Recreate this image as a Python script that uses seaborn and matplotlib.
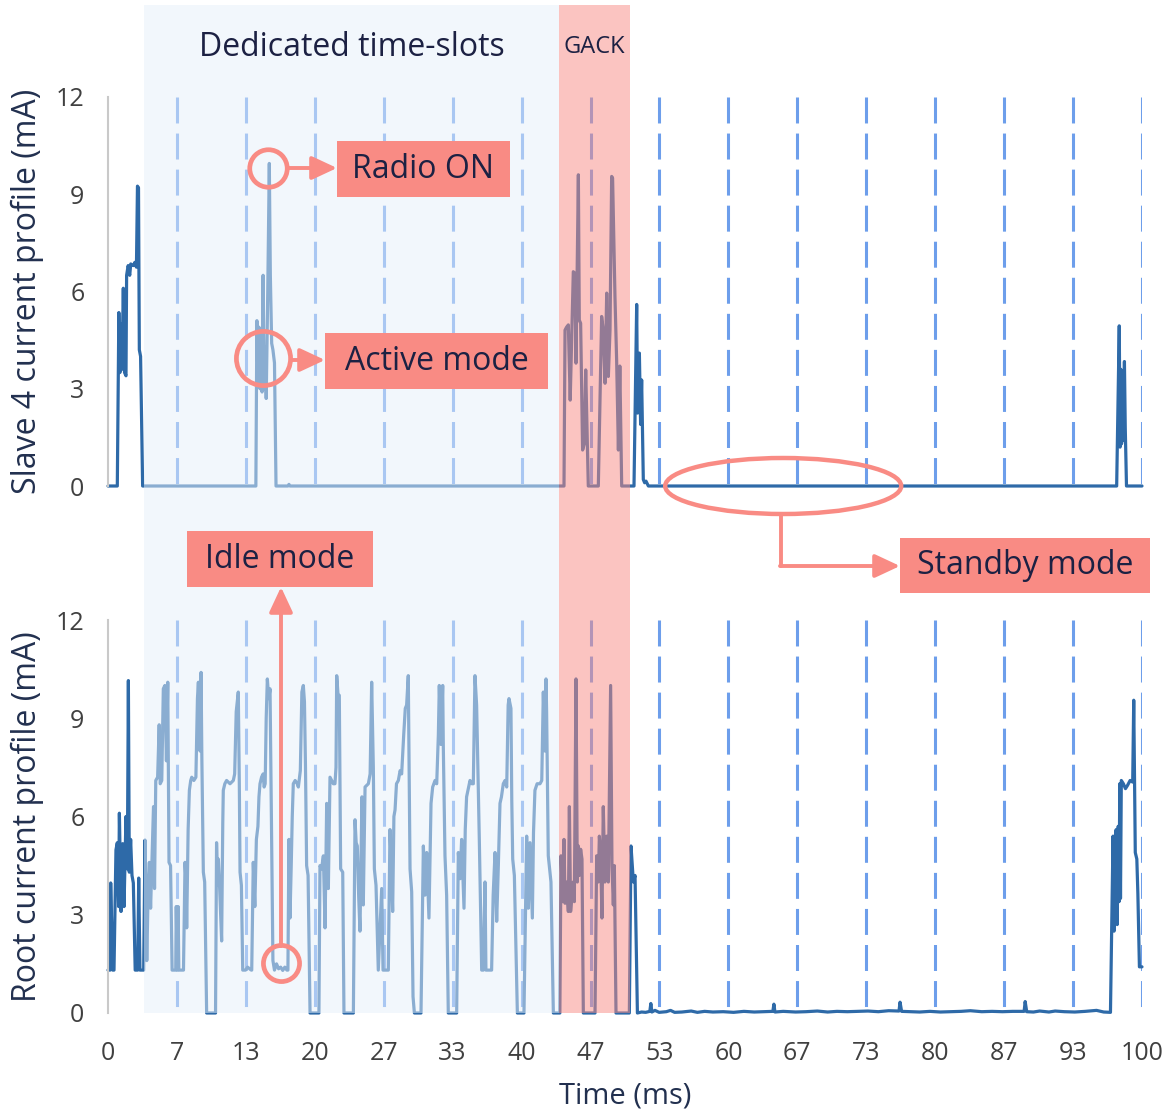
import numpy as np
import matplotlib
matplotlib.use("Agg")
import matplotlib.pyplot as plt
import seaborn as sns
from matplotlib.patches import Rectangle, Ellipse, FancyArrowPatch
from matplotlib.lines import Line2D
from matplotlib.transforms import Affine2D, blended_transform_factory

# =========================
# Data
# =========================
slave_t = [0.0, 0.9, 1.05, 1.15, 1.25, 1.35, 1.48, 1.6, 1.74, 1.8, 1.95, 2.1, 2.2, 2.45, 2.6,
           2.75, 2.85, 2.95, 3.03, 3.15, 3.35,
           14.3, 14.4, 14.5, 14.6, 14.7, 14.8, 14.9, 15.0, 15.1, 15.2, 15.3, 15.45, 15.6, 15.7,
           15.83, 15.95, 16.1, 16.25, 17.4, 17.5, 17.6,
           44.1, 44.2, 44.35, 44.52, 44.7, 44.84, 45.0, 45.16, 45.26, 45.49, 45.58, 45.71, 45.9,
           46.06, 46.2, 46.45,
           47.42, 47.74, 47.9, 48.07, 48.23, 48.39, 48.55, 48.71, 48.8, 49.03, 49.19, 49.36,
           49.5, 49.68,
           50.87, 51.13, 51.22, 51.39, 51.51, 51.61, 51.77, 51.9, 52.03, 52.26,
           97.55, 97.8, 97.88, 97.95, 98.02, 98.1, 98.18, 98.3, 98.38, 98.5, 100.0]
slave_i = [0.0, 0.0, 5.35, 3.5, 5.0, 3.6, 6.1, 3.5, 3.4, 6.5, 6.8, 6.5, 6.85, 6.8, 6.9,
           6.75, 9.25, 9.2, 4.2, 4.0, 0.0,
           0.0, 5.1, 3.2, 4.9, 3.0, 4.7, 2.9, 6.5, 3.0, 4.3, 2.7, 6.0, 9.95, 6.5,
           4.4, 4.2, 3.8, 0.0, 0.0, 0.05, 0.0,
           0.0, 4.81, 4.9, 4.97, 2.65, 4.5, 6.61, 6.56, 3.79, 9.6, 5.12, 5.02, 1.11,
           1.3, 3.58, 0.0,
           0.0, 5.23, 4.8, 3.17, 5.95, 3.38, 4.81, 9.55, 9.5, 5.84, 3.89, 1.11,
           3.7, 0.0,
           0.0, 5.6, 2.25, 4.1, 1.9, 3.27, 0.2, 0.1, 0.15, 0.0,
           0.0, 4.94, 1.2, 3.6, 1.3, 3.5, 1.4, 3.84, 1.8, 0.0, 0.0]

root_t = [0.0, 0.2, 0.26, 0.45, 0.58, 0.77, 0.9, 1.03, 1.1, 1.26, 1.42, 1.55, 1.74, 1.87, 1.97,
          2.06, 2.19, 2.32, 2.45, 2.63, 2.87, 2.97, 3.09, 3.45,
          # time-slot bursts
          3.58, 3.75, 3.9, 4.0, 4.12, 4.25, 4.4, 4.5, 4.62, 4.8, 4.95, 5.05, 5.2, 5.35, 5.5, 5.65,
          5.78, 5.9, 6.05, 6.2, 6.55, 6.6, 6.7, 6.78, 6.85, 7.2,
          7.3, 7.45, 7.55, 7.61, 7.75, 7.87, 8.0, 8.1, 8.3, 8.5, 8.65, 8.74, 8.9, 9.0, 9.08,
          9.22, 9.35, 9.54, 10.3,
          10.4, 10.5, 10.6, 10.67, 10.8, 10.99, 11.1, 11.15, 11.3, 11.47, 11.8, 12.12, 12.25,
          12.4, 12.6, 12.7, 12.77, 12.9, 13.03, 13.3, 13.5, 13.85,
          13.9, 14.05, 14.2, 14.35, 14.5, 14.6, 14.7, 14.85, 15.0, 15.1, 15.2, 15.3, 15.41,
          15.55, 15.67, 15.83, 15.95, 16.1, 16.3, 16.5, 16.7, 16.9, 17.1, 17.3,
          17.4, 17.5, 17.6, 17.72, 17.82, 17.92, 18.1, 18.3, 18.41, 18.6, 18.75, 18.89, 19.0,
          19.1, 19.21, 19.35, 19.54, 20.2,
          20.4, 20.5, 20.65, 20.83, 20.99, 21.15, 21.31, 21.47, 21.79, 21.95, 22.05, 22.12,
          22.25, 22.37, 22.5, 22.7, 22.82, 23.73,
          23.89, 24.0, 24.11, 24.25, 24.37, 24.56, 24.69, 24.86, 25.18, 25.35, 25.5, 25.66,
          25.76, 25.92, 26.14, 26.47, 26.6, 27.11,
          27.27, 27.4, 27.53, 27.65, 27.76, 27.9, 28.08, 28.25, 28.4, 28.6, 28.75, 28.88, 29.04,
          29.21, 29.37, 29.5, 29.63, 30.27,
          30.5, 30.66, 30.82, 31.04, 31.24, 31.4, 31.63, 31.79, 31.95, 32.04, 32.2, 32.37,
          32.43, 32.59, 32.75, 32.91, 33.72,
          33.88, 34.05, 34.2, 34.43, 34.55, 34.68, 35.01, 35.2, 35.33, 35.49, 35.65, 35.91,
          36.14, 36.3, 36.46, 36.55, 37.1,
          37.25, 37.43, 37.59, 37.75, 37.91, 38.05, 38.23, 38.4, 38.56, 38.7, 38.78, 38.97,
          39.05, 39.14, 39.3, 39.59, 40.23,
          40.49, 40.65, 40.81, 41.04, 41.15, 41.29, 41.5, 41.78, 41.95, 42.1, 42.25, 42.36,
          42.42, 42.58, 42.84, 43.07, 43.7,
          # GACK bursts
          43.81, 43.97, 44.1, 44.2, 44.36, 44.52, 44.62, 44.74, 44.87, 45.0, 45.1, 45.26, 45.39,
          45.49, 45.58, 45.71, 45.84, 45.97, 47.1,
          47.26, 47.42, 47.52, 47.65, 47.77, 47.9, 48.06, 48.23, 48.39, 48.61, 48.74, 48.87,
          48.97, 49.13, 50.42, 50.58, 50.81, 50.97, 51.2,
          # standby
          51.6, 52.0, 52.4, 52.5, 52.6, 52.9, 53.3, 54.0, 54.4, 54.8, 55.5, 56.4, 57.0, 57.7,
          58.5, 59.5, 60.5, 61.5, 62.5, 63.5, 64.3, 64.4, 64.5, 65.3, 66.5, 67.5, 68.6, 69.6,
          70.5, 71.5, 72.5, 73.5, 74.5, 75.5, 76.5, 76.6, 76.75, 77.5, 78.5, 79.5, 80.5, 81.5,
          82.5, 83.4, 84.5, 85.5, 86.5, 87.5, 88.6, 88.7, 88.85, 89.5, 90.1, 91.0, 91.6, 92.5,
          93.5, 94.5, 95.6, 96.3, 96.95,
          # next cycle
          97.2, 97.3, 97.4, 97.5, 97.6, 97.7, 97.78, 97.85, 97.92, 98.0, 98.2, 98.4, 98.6,
          98.85, 99.1, 99.2, 99.35, 99.5, 99.6, 99.75, 100.0]
root_i = [1.31, 1.31, 3.97, 1.31, 1.31, 4.98, 5.2, 3.25, 6.1, 3.1, 5.17, 3.25, 6.0, 4.4, 10.15,
          4.3, 5.3, 4.2, 3.97, 1.31, 1.31, 4.12, 1.31, 1.31,
          5.28, 1.6, 4.0, 4.6, 3.2, 4.6, 6.3, 3.8, 7.1, 7.2, 8.8, 7.0, 7.1, 9.9, 10.0, 7.7,
          10.1, 4.6, 4.5, 1.31, 1.31, 3.25, 1.31, 3.25, 1.31, 1.31,
          1.31, 4.6, 4.0, 2.6, 5.6, 6.8, 7.1, 7.2, 7.1, 7.2, 9.6, 10.1, 8.0, 10.4, 7.7,
          4.3, 4.0, 0.0, 0.0,
          0.0, 5.2, 3.9, 4.7, 3.8, 2.2, 5.8, 6.8, 7.0, 7.1, 7.0, 7.1, 7.3,
          9.2, 9.8, 7.0, 4.3, 3.9, 1.31, 1.31, 1.4, 1.31,
          1.31, 4.6, 3.25, 5.3, 5.7, 6.6, 7.0, 7.2, 7.3, 6.9, 7.0, 9.0, 10.2,
          9.6, 9.9, 5.0, 1.6, 1.31, 1.5, 1.35, 1.4, 1.3, 1.4, 1.31,
          1.31, 5.3, 2.9, 4.5, 6.0, 7.0, 7.1, 7.0, 6.9, 7.4, 9.8, 10.0, 9.5,
          7.5, 4.5, 4.2, 0.0, 0.0,
          0.0, 4.5, 4.4, 4.8, 2.6, 6.4, 3.8, 7.2, 7.0, 7.0, 7.5, 10.3,
          9.7, 9.7, 4.4, 4.3, 0.0, 0.0,
          5.9, 5.2, 5.1, 3.5, 2.5, 6.6, 3.3, 6.9, 7.0, 7.3, 10.1, 7.5,
          4.4, 3.9, 1.31, 3.8, 1.31, 1.31,
          5.6, 4.5, 3.1, 6.0, 6.2, 7.0, 7.1, 7.4, 7.3, 8.5, 9.3, 9.4, 10.3,
          4.4, 3.7, 0.5, 0.0, 0.0,
          5.1, 3.6, 4.9, 2.9, 6.4, 6.9, 7.1, 7.0, 8.5, 10.0, 8.2, 10.0,
          8.1, 4.8, 3.6, 0.0, 0.0,
          4.9, 4.1, 5.3, 3.2, 5.6, 6.6, 7.1, 7.0, 7.0, 10.3, 9.4, 5.3,
          1.31, 1.31, 4.0, 1.31, 1.31,
          3.6, 4.9, 2.8, 4.5, 6.4, 6.6, 7.0, 7.1, 6.9, 9.4, 9.6, 9.3,
          6.5, 4.7, 4.2, 0.0, 0.0,
          5.4, 3.2, 5.2, 2.9, 5.5, 6.8, 7.0, 7.0, 7.1, 9.8, 8.0, 10.2,
          9.2, 4.8, 4.0, 0.0, 0.0,
          4.8, 3.4, 5.3, 3.35, 4.0, 3.1, 6.3, 3.1, 3.6, 4.0, 3.4, 10.2, 4.0,
          5.1, 4.2, 5.0, 4.7, 0.0, 0.0,
          4.8, 4.0, 5.4, 4.8, 2.9, 6.3, 4.0, 5.4, 4.0, 10.0, 4.5, 3.3,
          4.5, 0.0, 0.0, 5.1, 4.0, 4.2, 0.0,
          0.03, 0.02, 0.05, 0.29, 0.03, 0.08, 0.02, 0.04, 0.08, 0.02, 0.03, 0.06, 0.02, 0.05,
          0.03, 0.04, 0.02, 0.05, 0.03, 0.04, 0.05, 0.27, 0.03, 0.05, 0.03, 0.04, 0.06, 0.03,
          0.05, 0.04, 0.05, 0.06, 0.04, 0.07, 0.06, 0.33, 0.05, 0.04, 0.03, 0.05, 0.03, 0.04,
          0.05, 0.07, 0.04, 0.05, 0.04, 0.05, 0.05, 0.35, 0.04, 0.03, 0.06, 0.03, 0.06, 0.04,
          0.03, 0.05, 0.08, 0.03, 0.02,
          5.4, 2.5, 5.2, 5.6, 2.7, 5.7, 3.4, 7.0, 3.5, 7.1, 7.0, 6.85, 6.95,
          7.1, 7.05, 9.55, 4.9, 4.7, 3.65, 1.41, 1.41]

x_tick_labels = ["0", "7", "13", "20", "27", "33", "40", "47", "53", "60", "67", "73",
                 "80", "87", "93", "100"]
y_ticks = [0, 3, 6, 9, 12]
slot_window = (3.5, 43.6)
gack_window = (43.6, 50.45)

# =========================
# Style
# =========================
LINE = "#2e6aa8"
DASH = "#6d9eeb"
SALMON = "#f98b84"
TEXT = "#1c2143"
LABEL = "#22304f"
WEIGHT = "normal"

sns.set_theme(style="white")
plt.rcParams["font.family"] = ["Open Sans", "DejaVu Sans"]

W, H = 1166, 1115
fig = plt.figure(figsize=(W / 100, H / 100), dpi=100)
px = Affine2D().scale(1 / W, -1 / H).translate(0, 1) + fig.transFigure

ax1 = fig.add_axes([108 / W, 1 - 486 / H, 1034 / W, 389 / H])
ax2 = fig.add_axes([108 / W, 1 - 1013 / H, 1034 / W, 393 / H])

slot_edges = np.linspace(0, 100, 16)

for ax, t, i, lab in [(ax1, slave_t, slave_i, "Slave 4 current profile (mA)"),
                      (ax2, root_t, root_i, "Root current profile (mA)")]:
    for xv in slot_edges[1:]:
        ax.plot([xv, xv], [12, 0], color=DASH, lw=2.2, dashes=(8.5, 3.3), zorder=1,
                solid_capstyle="butt", dash_capstyle="butt")
    sns.lineplot(x=t, y=i, ax=ax, color=LINE, linewidth=2.3, estimator=None, sort=False,
                 zorder=2)
    ax.lines[-1].set_clip_on(False)
    ax.set_xlim(0, 100)
    ax.set_ylim(0, 12)
    ax.set_yticks(y_ticks)
    ax.set_xticks(slot_edges)
    ax.tick_params(length=0, labelsize=18, labelcolor="#404040", pad=17)
    for s in ["top", "right", "bottom"]:
        ax.spines[s].set_visible(False)
    ax.spines["left"].set_color("#c9c9c9")
    ax.spines["left"].set_linewidth(1.5)
    ax.set_ylabel(lab, fontsize=23, color=LABEL, fontweight=WEIGHT)
    ax.yaxis.set_label_coords(-0.062, 0.5)

ax1.set_xticklabels([])
ax2.set_xticklabels(x_tick_labels)
ax2.tick_params(axis="x", pad=20)
ax2.set_xlabel("Time (ms)", fontsize=21, color=LABEL, fontweight=WEIGHT)
ax2.xaxis.set_label_coords(0.5, -0.175)

# =========================
# Shaded windows (drawn over the traces)
# =========================
blend = blended_transform_factory(ax2.transData, px)
fig.add_artist(Rectangle((slot_window[0], 5), slot_window[1] - slot_window[0], 1008,
                         transform=blend, facecolor="#e6f0fa", alpha=0.5, lw=0, zorder=5))
fig.add_artist(Rectangle((gack_window[0], 5), gack_window[1] - gack_window[0], 1008,
                         transform=blend, facecolor=SALMON, alpha=0.5, lw=0, zorder=5))

fig.text(sum(slot_window) / 2, 48, "Dedicated time-slots", transform=blend, fontsize=23,
         color=TEXT, ha="center", va="center", zorder=11, fontweight=WEIGHT)
fig.text(sum(gack_window) / 2, 47, "GACK", transform=blend, fontsize=17,
         color=TEXT, ha="center", va="center", zorder=11, fontweight=WEIGHT)

# =========================
# Annotations
# =========================
def box(x0, y0, w, h, label):
    fig.add_artist(Rectangle((x0, y0), w, h, transform=px, facecolor=SALMON, lw=0, zorder=10))
    fig.text(x0 + w / 2, y0 + h / 2, label, transform=px, fontsize=23, color=TEXT,
             ha="center", va="center", zorder=11, fontweight=WEIGHT)


def arrow(p0, p1):
    fig.add_artist(FancyArrowPatch(p0, p1, transform=px, color=SALMON, lw=2.8,
                                   arrowstyle="-|>,head_length=0.9,head_width=0.42",
                                   mutation_scale=17, shrinkA=0, shrinkB=0, zorder=10))


def ring(ax, x, y, size):
    fig.add_artist(Line2D([x], [y], transform=ax.transData, marker="o", ms=size,
                          mfc="none", mec=SALMON, mew=3.4, zorder=10))


ring(ax1, 15.47, 9.81, 27)
ring(ax1, 14.96, 3.94, 39)
ring(ax2, 16.73, 1.52, 26)

ppx = 1034 / 100
ppy1 = 389 / 12
fig.add_artist(Ellipse((65.3, 0.0), 236 / ppx, 56 / ppy1, transform=ax1.transData,
                       facecolor="none", edgecolor=SALMON, lw=3.2, zorder=10))

box(337, 141, 173, 56, "Radio ON")
box(325, 333, 223, 56, "Active mode")
box(187, 531, 186, 56, "Idle mode")
box(900, 538, 250, 55, "Standby mode")

arrow((287, 168), (337, 168))
arrow((291, 360), (325, 360))
arrow((281, 946), (281, 587))
fig.add_artist(Line2D([781, 781], [516, 566], transform=px, color=SALMON, lw=2.8, zorder=10))
arrow((780, 566), (900, 566))

fig.savefig("out.png", dpi=100)
